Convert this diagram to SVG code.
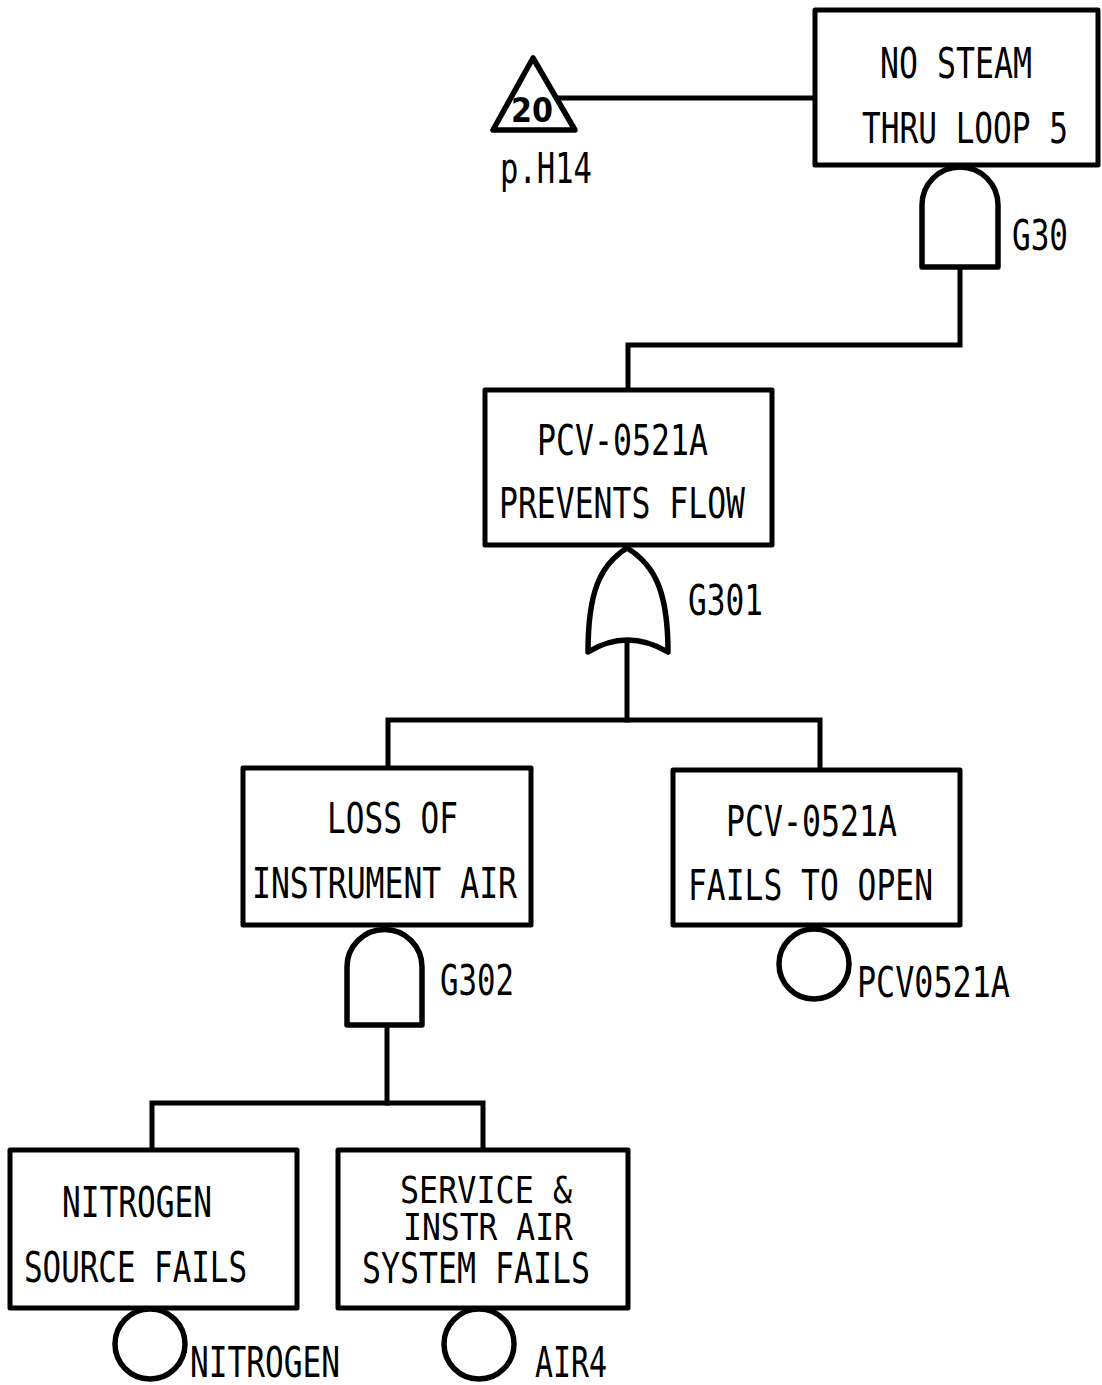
<svg xmlns="http://www.w3.org/2000/svg" width="1102" height="1385" viewBox="0 0 1102 1385">
<style>
.box{fill:#fff;stroke:#000;stroke-width:5;stroke-linejoin:round}
.gate{fill:#fff;stroke:#000;stroke-width:5.5;stroke-linejoin:round}
.ln{fill:none;stroke:#000;stroke-width:5;stroke-linecap:square;stroke-linejoin:miter}
.t{font-family:"DejaVu Sans Mono","Liberation Mono",monospace;font-size:42px;fill:#000}
.s{font-size:38px}
</style>
<rect width="1102" height="1385" fill="#fff"/>
<g id="connectors">
<path class="ln" d="M558,98 L815,98"/>
<path class="ln" d="M960,267 L960,345 L628,345 L628,390"/>
<path class="ln" d="M627,643 L627,720"/>
<path class="ln" d="M388,768 L388,720 L820,720 L820,770"/>
<path class="ln" d="M387,1025 L387,1103"/>
<path class="ln" d="M152,1150 L152,1103 L483,1103 L483,1150"/>
</g>
<g id="transfer20">
<polygon class="gate" points="533,58 493,130 575,130"/>
<text x="532" y="122" font-family="DejaVu Sans Condensed,DejaVu Sans,sans-serif" font-weight="bold" font-size="34" text-anchor="middle" textLength="42" lengthAdjust="spacingAndGlyphs">20</text>
<text class="t" x="500" y="183" textLength="92" lengthAdjust="spacingAndGlyphs">p.H14</text>
</g>
<g id="top">
<rect class="box" x="815" y="10" width="283" height="155"/>
<text class="t" x="880" y="78" textLength="152" lengthAdjust="spacingAndGlyphs">NO STEAM</text>
<text class="t" x="862" y="143" textLength="206" lengthAdjust="spacingAndGlyphs">THRU LOOP 5</text>
</g>
<g id="G30">
<path class="gate" d="M922,267 L922,205 A38,38 0 0 1 998,205 L998,267 Z"/>
<text class="t" x="1012" y="250" textLength="56" lengthAdjust="spacingAndGlyphs">G30</text>
</g>
<g id="prevents">
<rect class="box" x="485" y="390" width="287" height="155"/>
<text class="t" x="537" y="455" textLength="171" lengthAdjust="spacingAndGlyphs">PCV-0521A</text>
<text class="t" x="499" y="518" textLength="246" lengthAdjust="spacingAndGlyphs">PREVENTS FLOW</text>
</g>
<g id="G301">
<path class="gate" d="M627,548 C600,565 588,592 588,652 Q627,628 668,652 C668,592 655,565 627,548 Z"/>
<text class="t" x="688" y="615" textLength="75" lengthAdjust="spacingAndGlyphs">G301</text>
</g>
<g id="lossair">
<rect class="box" x="243" y="768" width="288" height="157"/>
<text class="t" x="327" y="833" textLength="131" lengthAdjust="spacingAndGlyphs">LOSS OF</text>
<text class="t" x="252" y="898" textLength="265" lengthAdjust="spacingAndGlyphs">INSTRUMENT AIR</text>
</g>
<g id="G302">
<path class="gate" d="M347,1025 L347,967 A37.5,37.5 0 0 1 422,967 L422,1025 Z"/>
<text class="t" x="440" y="995" textLength="74" lengthAdjust="spacingAndGlyphs">G302</text>
</g>
<g id="failsopen">
<rect class="box" x="673" y="770" width="287" height="155"/>
<text class="t" x="726" y="836" textLength="171" lengthAdjust="spacingAndGlyphs">PCV-0521A</text>
<text class="t" x="688" y="900" textLength="245" lengthAdjust="spacingAndGlyphs">FAILS TO OPEN</text>
</g>
<g id="PCV0521A">
<circle class="gate" cx="814" cy="964" r="35"/>
<text class="t" x="857" y="997" textLength="153" lengthAdjust="spacingAndGlyphs">PCV0521A</text>
</g>
<g id="nitrogenbox">
<rect class="box" x="10" y="1150" width="287" height="158"/>
<text class="t" x="62" y="1217" textLength="150" lengthAdjust="spacingAndGlyphs">NITROGEN</text>
<text class="t" x="24" y="1282" textLength="223" lengthAdjust="spacingAndGlyphs">SOURCE FAILS</text>
</g>
<g id="NITROGEN">
<circle class="gate" cx="150" cy="1344" r="35"/>
<text class="t" x="190" y="1377" textLength="150" lengthAdjust="spacingAndGlyphs">NITROGEN</text>
</g>
<g id="airbox">
<rect class="box" x="338" y="1150" width="290" height="158"/>
<text class="t s" x="400" y="1203" textLength="172" lengthAdjust="spacingAndGlyphs">SERVICE &amp;</text>
<text class="t s" x="403" y="1240" textLength="170" lengthAdjust="spacingAndGlyphs">INSTR AIR</text>
<text class="t" x="362" y="1283" textLength="228" lengthAdjust="spacingAndGlyphs">SYSTEM FAILS</text>
</g>
<g id="AIR4">
<circle class="gate" cx="479" cy="1344" r="35"/>
<text class="t" x="535" y="1377" textLength="72" lengthAdjust="spacingAndGlyphs">AIR4</text>
</g>
</svg>
